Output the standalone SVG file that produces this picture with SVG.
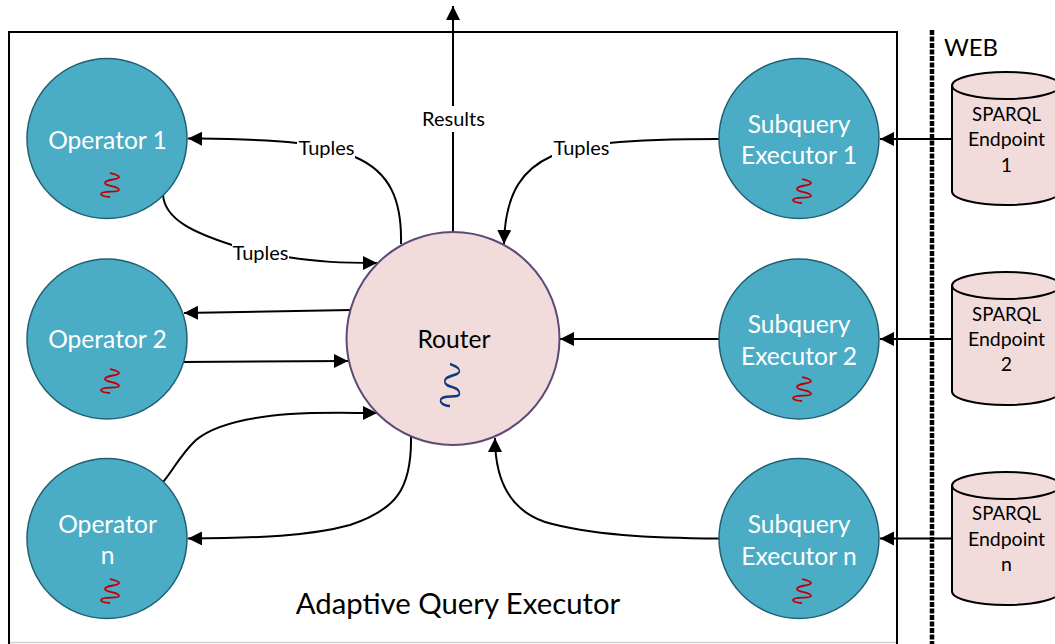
<svg xmlns="http://www.w3.org/2000/svg" width="1055" height="644" viewBox="0 0 1055 644">
<style>
text{font-family:"Lato","Open Sans","Liberation Sans",sans-serif;text-anchor:middle}
.op{fill:#4bacc6;stroke:#215f71;stroke-width:1.5}
.w{fill:#fff;font-size:24.600px}
.k{fill:#000;font-size:19.500px}
.s{fill:#000;font-size:18.600px}
.l{fill:#000;font-size:20px}
.c{fill:none;stroke:#000;stroke-width:2}
.db{fill:#f2dcdb;stroke:#000;stroke-width:2}
.sq{fill:none;stroke:#c00000;stroke-width:1.800}
.bg{fill:#fff;stroke:none}
</style>
<defs>
<marker id="a" markerUnits="userSpaceOnUse" markerWidth="16" markerHeight="16" refX="14" refY="7" orient="auto"><path d="M0 0L14 7L0 14Z" fill="#000"/></marker>
<path id="sq" d="M0-12C4-11 9-10 9-8C9-5-5-6-5-2C-5 2 9 0 9 5C9 8-9 5-9 9C-9 11-3 12 0 12"/>
</defs>
<rect x="9" y="32" width="888" height="620" fill="#fff" stroke="#000" stroke-width="2"/>
<path d="M10 642.500H896" stroke="#d0d0d0" stroke-width="1.500" fill="none"/>
<g id="connectors">
<path class="c" d="M952 139H880" marker-end="url(#a)"/>
<path class="c" d="M952 339H880" marker-end="url(#a)"/>
<path class="c" d="M952 538.500H880" marker-end="url(#a)"/>
<path class="c" d="M401 244C402 200 390 172 355 157L297 143C260 139 230 139 188 138.500" marker-end="url(#a)"/>
<path class="c" d="M163 195C165 220 195 233 232 245L287 257C320 262 340 263 377 263" marker-end="url(#a)"/>
<path class="c" d="M453 232V6" marker-end="url(#a)"/>
<path class="c" d="M719 139C680 139 640 140 609 143L552 156C525 168 505 190 504 244" marker-end="url(#a)"/>
<path class="c" d="M351 310L184 313" marker-end="url(#a)"/>
<path class="c" d="M182 362L348 361" marker-end="url(#a)"/>
<path class="c" d="M719 339H560" marker-end="url(#a)"/>
<path class="c" d="M163 482C172 472 180 455 196 440C215 424 250 417 290 414C320 412 350 413 377 413" marker-end="url(#a)"/>
<path class="c" d="M411 436C412 490 395 510 350 525C310 536 260 538 188 538.500" marker-end="url(#a)"/>
<path class="c" d="M719 538.500C650 538 590 535 545 522C510 510 495 480 495 438" marker-end="url(#a)"/>
<path d="M932 30V644" fill="none" stroke="#000" stroke-width="4.500" stroke-dasharray="5 1.500"/>
</g>
<g id="label-tuples-1"><rect class="bg" x="297" y="138" width="58" height="21"/><text class="l" x="326.500" y="155">Tuples</text></g>
<g id="label-tuples-2"><rect class="bg" x="232" y="243" width="57" height="21"/><text class="l" x="260.500" y="260">Tuples</text></g>
<g id="label-tuples-3"><rect class="bg" x="552" y="138" width="58" height="21"/><text class="l" x="581.500" y="155">Tuples</text></g>
<g id="label-results"><rect class="bg" x="423" y="106" width="61" height="26"/><text class="l" x="453.500" y="126">Results</text></g>
<g id="operator-1"><circle class="op" cx="107" cy="138.500" r="80"/><text class="w" x="107.500" y="149">Operator 1</text><use href="#sq" class="sq" x="110" y="185"/></g>
<g id="operator-2"><circle class="op" cx="107" cy="339" r="80"/><text class="w" x="107.500" y="348">Operator 2</text><use href="#sq" class="sq" x="110" y="381"/></g>
<g id="operator-n"><circle class="op" cx="107" cy="538.500" r="80"/><text class="w" x="107.500" y="533">Operator</text><text class="w" x="107.500" y="564">n</text><use href="#sq" class="sq" x="110" y="591"/></g>
<g id="subquery-1"><circle class="op" cx="799" cy="138.500" r="80"/><text class="w" x="799" y="133">Subquery</text><text class="w" x="799" y="164">Executor 1</text><use href="#sq" class="sq" x="802" y="191"/></g>
<g id="subquery-2"><circle class="op" cx="799" cy="339" r="80"/><text class="w" x="799" y="333">Subquery</text><text class="w" x="799" y="365">Executor 2</text><use href="#sq" class="sq" x="802" y="389"/></g>
<g id="subquery-n"><circle class="op" cx="799" cy="538.500" r="80"/><text class="w" x="799" y="533">Subquery</text><text class="w" x="799" y="565">Executor n</text><use href="#sq" class="sq" x="802" y="591"/></g>
<g id="router"><circle cx="453" cy="338.500" r="106.500" fill="#f2dcdb" stroke="#5c4a78" stroke-width="2"/><text x="454" y="348" font-size="24.600" fill="#000">Router</text><use href="#sq" transform="translate(450 385) scale(1.050 1.750)" fill="none" stroke="#0b3b7e" stroke-width="1.500"/></g>
<g id="endpoint-1"><path class="db" d="M952 85.500A54 13.500 0 0 1 1060 85.500V191.500A54 13.500 0 0 1 952 191.500Z"/><path d="M952 85.500A54 13.500 0 0 0 1060 85.500" fill="none" stroke="#000" stroke-width="2"/><text class="s" x="1006.500" y="121">SPARQL</text><text class="k" x="1006.500" y="146">Endpoint</text><text class="k" x="1006.500" y="172">1</text></g>
<g id="endpoint-2"><path class="db" d="M952 285.500A54 13.500 0 0 1 1060 285.500V391.500A54 13.500 0 0 1 952 391.500Z"/><path d="M952 285.500A54 13.500 0 0 0 1060 285.500" fill="none" stroke="#000" stroke-width="2"/><text class="s" x="1006.500" y="321">SPARQL</text><text class="k" x="1006.500" y="346">Endpoint</text><text class="k" x="1006.500" y="371">2</text></g>
<g id="endpoint-n"><path class="db" d="M952 485.500A54 13.500 0 0 1 1060 485.500V591.500A54 13.500 0 0 1 952 591.500Z"/><path d="M952 485.500A54 13.500 0 0 0 1060 485.500" fill="none" stroke="#000" stroke-width="2"/><text class="s" x="1006.500" y="520">SPARQL</text><text class="k" x="1006.500" y="546">Endpoint</text><text class="k" x="1006.500" y="571">n</text></g>
<text x="971" y="56" font-size="24" fill="#000">WEB</text>
<text x="458" y="614" font-size="29.300" fill="#000">Adaptive Query Executor</text>
</svg>
